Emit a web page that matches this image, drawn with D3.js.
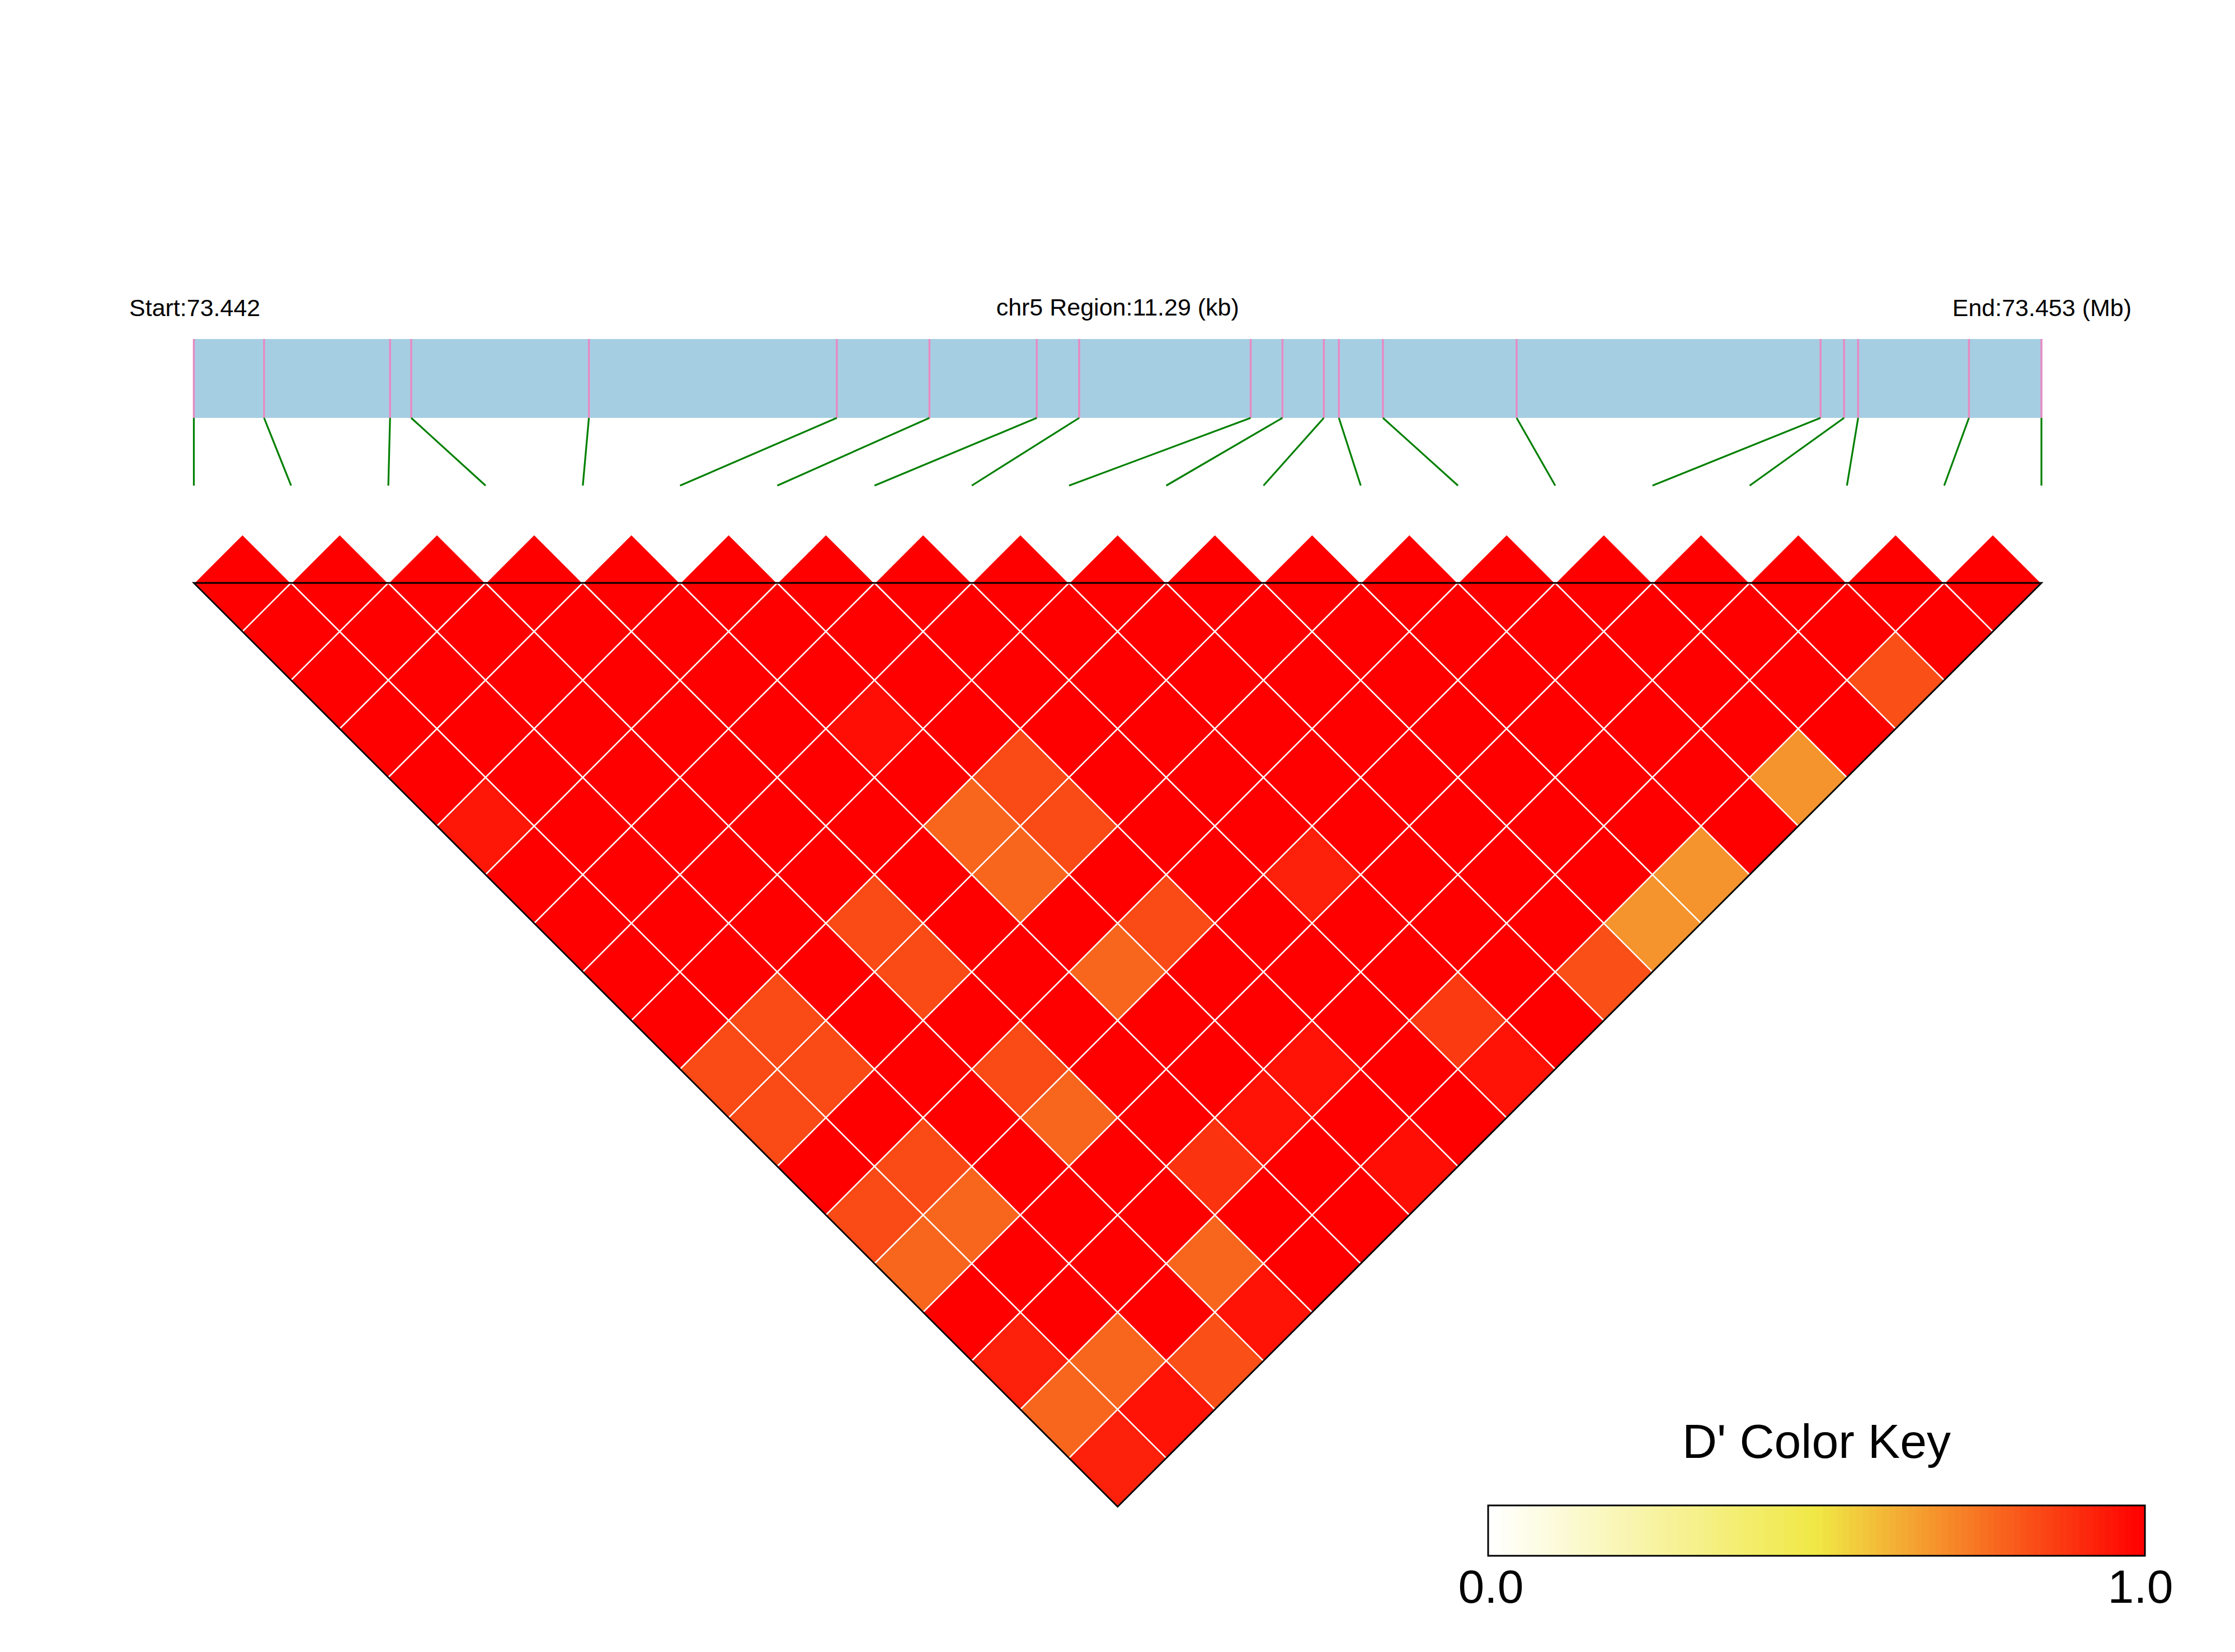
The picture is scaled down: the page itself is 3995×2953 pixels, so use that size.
<!DOCTYPE html>
<html>
<head>
<meta charset="utf-8">
<script src="https://cdn.jsdelivr.net/npm/d3@7"></script>
<style>
  html, body { margin: 0; padding: 0; background: #ffffff; }
  svg { display: block; font-family: "Liberation Sans", Arial, Helvetica, sans-serif; }
</style>
</head>
<body>
<svg id="chart" width="3995" height="2953"></svg>
<script>
// ---------------- data ----------------
const chromName = "chr5";
const regionStart = 73442100;           // bp
// SNP offsets (bp) from regionStart, read from the pink marks on the bar
const snpOffsets = [0, 429, 1199, 1328, 2414, 3929, 4495, 5151, 5410, 6458,
                    6652, 6905, 6997, 7266, 8083, 9940, 10084, 10170, 10847, 11290];
const snpPositions = snpOffsets.map(o => regionStart + o);

// D' values: row i holds D'(SNP i, SNP j) for j = i+1 .. 19
const dprimeRows = [
  [1,1,1,1,1,0.95,1,1,1,1,0.84,0.84,1,0.84,0.78,1,0.93,0.78,0.93],
  [1,1,1,1,1,1,1,1,1,0.84,0.84,1,0.84,0.78,1,1,0.78,0.96],
  [1,1,1,1,1,1,1,1,1,1,1,1,1,1,1,1,0.83],
  [1,1,1,1,1,1,1,0.84,0.84,1,0.84,0.78,1,1,0.78,0.96],
  [1,1,1,1,1,1,1,1,1,1,1,1,0.89,1,1],
  [1,1,1,0.97,1,0.78,0.78,1,0.78,1,1,0.96,1,1],
  [1,1,1,1,0.84,0.84,1,0.84,1,1,0.96,1,0.97],
  [1,1,1,1,1,1,1,1,1,1,1,1],
  [1,1,1,1,1,1,0.93,1,1,0.875,0.96],
  [1,1,1,1,1,1,1,1,1,1],
  [1,1,1,1,1,1,1,1,0.83],
  [1,1,1,1,1,1,1,0.68],
  [1,1,1,1,1,1,0.68],
  [1,1,1,1,1,1],
  [1,1,1,1,0.68],
  [1,1,1,1],
  [1,1,0.83],
  [1,1],
  [1]
];

const keyStops = [0, 0.5, 1];
const keyColors = ["#ffffff", "#f0e845", "#ff0000"];
const keyTickValues = [0, 1];
const keyTitle = "D' Color Key";

// ---------------- layout ----------------
const svg = d3.select("#chart");
const nSnp = snpPositions.length;
const minPos = d3.min(snpPositions), maxPos = d3.max(snpPositions);

const leftX = 346.5, rightX = 3649;
const barTop = 606, barBottom = 747;
const linkBottom = 868;
const baseY = 1042;

const posScale = d3.scaleLinear().domain([minPos, maxPos]).range([leftX, rightX]);
const gx = d3.scaleLinear().domain([0, nSnp - 1]).range([leftX, rightX]);
const step = gx(1) - gx(0);
const gy = d3.scaleLinear().domain([0, nSnp - 1]).range([baseY, baseY + (nSnp - 1) * step / 2]);
const color = d3.scaleLinear().domain(keyStops).range(keyColors).clamp(true);

// ---------------- header texts ----------------
const fmt3 = d3.format(".3f"), fmt2 = d3.format(".2f");
svg.append("text").attr("x", 231).attr("y", 565).attr("font-size", 43)
  .attr("text-anchor", "start").text("Start:" + fmt3(minPos / 1e6));
svg.append("text").attr("x", (leftX + rightX) / 2).attr("y", 564).attr("font-size", 43)
  .attr("text-anchor", "middle")
  .text(chromName + " Region:" + fmt2((maxPos - minPos) / 1000) + " (kb)");
svg.append("text").attr("x", 3810).attr("y", 565).attr("font-size", 43)
  .attr("text-anchor", "end").text("End:" + fmt3(maxPos / 1e6) + " (Mb)");

// ---------------- region bar ----------------
svg.append("rect")
  .attr("x", posScale(minPos)).attr("y", barTop)
  .attr("width", posScale(maxPos) - posScale(minPos)).attr("height", barBottom - barTop)
  .attr("fill", "#a6cee3");

svg.append("g").selectAll("line").data(snpPositions).join("line")
  .attr("x1", d => posScale(d)).attr("x2", d => posScale(d))
  .attr("y1", barTop).attr("y2", barBottom)
  .attr("stroke", "#e78ac3").attr("stroke-width", 3.5);

svg.append("g").selectAll("line").data(snpPositions).join("line")
  .attr("x1", d => posScale(d)).attr("y1", barBottom)
  .attr("x2", (d, i) => gx(i)).attr("y2", linkBottom)
  .attr("stroke", "#008000").attr("stroke-width", 3.2);

// ---------------- LD cells ----------------
const cells = [];
dprimeRows.forEach((row, i) => {
  row.forEach((v, k) => {
    const j = i + 1 + k;
    cells.push({ i, j, v });
  });
});

svg.append("g").selectAll("path").data(cells).join("path")
  .attr("d", d => {
    const cx = gx((d.i + d.j) / 2);
    const cy = gy(d.j - d.i - 1);
    const h = step / 2;
    return `M${cx - h},${cy}L${cx},${cy - h}L${cx + h},${cy}L${cx},${cy + h}Z`;
  })
  .attr("fill", d => color(d.v))
  .attr("stroke", "#ffffff").attr("stroke-width", 2.5)
  .attr("stroke-linejoin", "miter");

// triangle outline
const apexX = gx((nSnp - 1) / 2), apexY = gy(nSnp - 1);
svg.append("path")
  .attr("d", `M${gx(0)},${baseY}L${apexX},${apexY}L${gx(nSnp - 1)},${baseY}Z`)
  .attr("fill", "none").attr("stroke", "#000000").attr("stroke-width", 3);

// ---------------- color key ----------------
const keyLeft = 2660, keyRight = 3834, keyTop = 2691, keyBottom = 2781;
const keyScale = d3.scaleLinear().domain([0, 1]).range([keyLeft, keyRight]);
const nStripes = 100;
const stripeVals = d3.range(nStripes).map(k => k / (nStripes - 1));
const sw = (keyRight - keyLeft) / nStripes;
svg.append("g").selectAll("rect").data(stripeVals).join("rect")
  .attr("x", (d, k) => keyLeft + k * sw).attr("y", keyTop)
  .attr("width", sw + 0.6).attr("height", keyBottom - keyTop)
  .attr("fill", d => color(d));
svg.append("rect").attr("x", keyLeft).attr("y", keyTop)
  .attr("width", keyRight - keyLeft).attr("height", keyBottom - keyTop)
  .attr("fill", "none").attr("stroke", "#000000").attr("stroke-width", 3);

svg.append("text").attr("x", (keyLeft + keyRight) / 2).attr("y", 2606)
  .attr("font-size", 86).attr("text-anchor", "middle").text(keyTitle);

svg.append("g").selectAll("text").data(keyTickValues).join("text")
  .attr("x", d => keyScale(d) + (d === 0 ? 5 : -8))
  .attr("y", 2865).attr("font-size", 84).attr("text-anchor", "middle")
  .text(d => d3.format(".1f")(d));
</script>
</body>
</html>
